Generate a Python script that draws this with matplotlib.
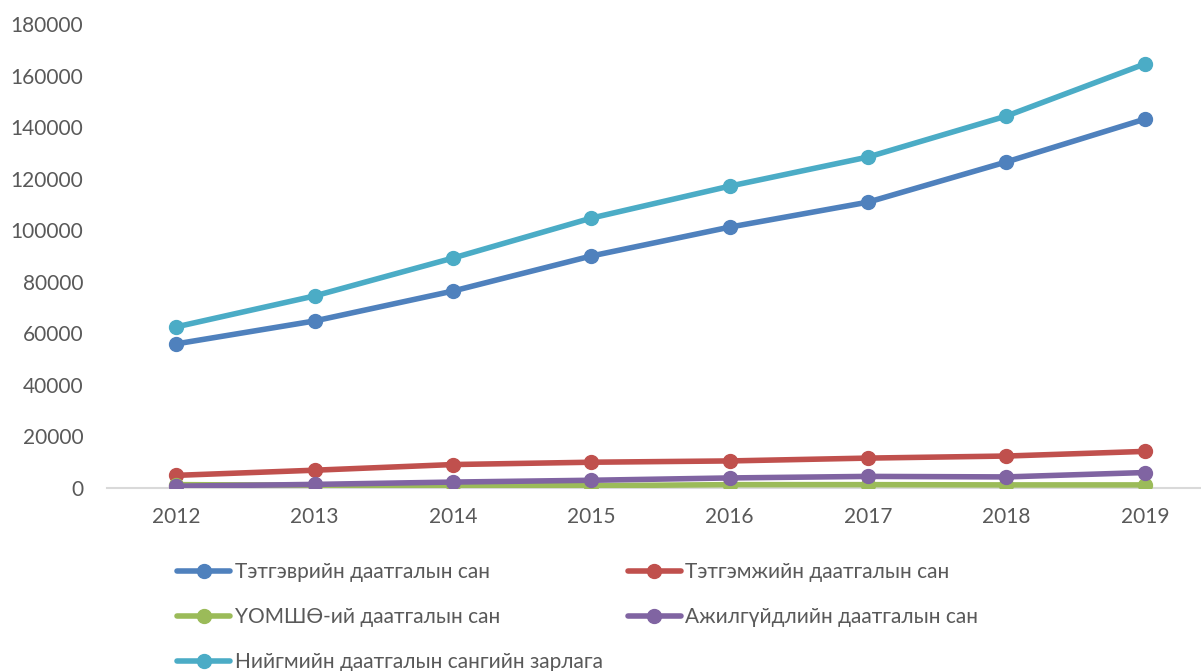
import numpy as np
import matplotlib.pyplot as plt

years = ['2012', '2013', '2014', '2015', '2016', '2017', '2018', '2019']
tetgever = [55900, 64800, 76400, 90000, 101200, 110900, 126500, 143100]
tetgemj = [4900, 6900, 9100, 10000, 10500, 11600, 12400, 14200]
uomsho = [1300, 1100, 1000, 900, 1300, 1300, 1200, 1200]
ajilgui = [700, 1400, 2300, 3000, 3900, 4500, 4300, 6000]
niigem = [62500, 74500, 89200, 104700, 117100, 128400, 144300, 164500]

names = ['Тэтгэврийн даатгалын сан', 'Тэтгэмжийн даатгалын сан',
         'ҮОМШӨ-ий даатгалын сан', 'Ажилгүйдлийн даатгалын сан',
         'Нийгмийн даатгалын сангийн зарлага']
series = [tetgever, tetgemj, uomsho, ajilgui, niigem]
colors = ['#4F81BD', '#C0504D', '#9BBB59', '#8064A2', '#4BACC6']

plt.rcParams['font.family'] = ['Lato', 'DejaVu Sans']

fig = plt.figure(figsize=(12.01, 6.71), dpi=100)
ax = fig.add_axes([107/1201, (671-488)/671, (1201-107)/1201, 464/671])

x = np.arange(len(years))
lines = []
for i, (s, c, n) in enumerate(zip(series, colors, names)):
    l, = ax.plot(x, s, color=c, lw=4, marker='o', ms=10, label=n, zorder=3+i,
                 solid_capstyle='round')
    lines.append(l)

ax.set_xlim(-0.5, 7.406)
ax.set_ylim(0, 180000)
ax.set_yticks(np.arange(0, 180001, 20000))
ax.set_xticks(x)
ax.set_xticklabels(years)
ax.tick_params(axis='both', length=0, labelsize=15, colors='#595959')
ax.tick_params(axis='y', pad=17)
ax.tick_params(axis='x', pad=14)
for sp in ['top', 'right', 'left']:
    ax.spines[sp].set_visible(False)
ax.spines['bottom'].set_color('#d9d9d9')
ax.spines['bottom'].set_linewidth(1.5)

# row-major order like the original
order = [0, 2, 4, 1, 3]
leg = fig.legend([lines[k] for k in order], [names[k] for k in order],
                 loc='upper left', bbox_to_anchor=(169/1201, 1 - 554/671), ncol=2,
                 frameon=False, fontsize=15, handlelength=2.55, handletextpad=0.2,
                 columnspacing=1.2, labelspacing=1.2, borderaxespad=0)
for t in leg.get_texts():
    t.set_color('#595959')

fig.savefig('out.png', dpi=100)
